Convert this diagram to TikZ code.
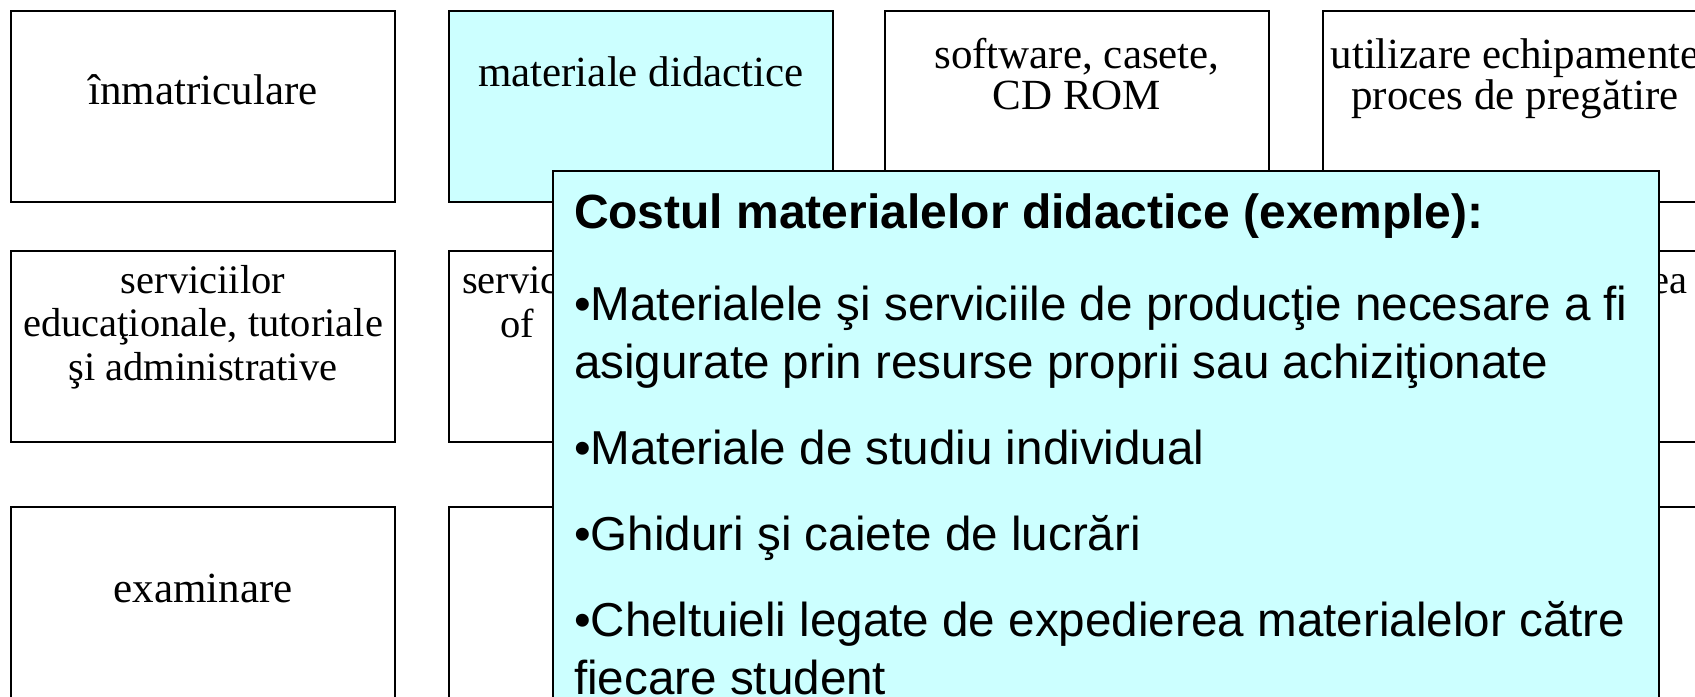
\documentclass[tikz,border=0pt]{standalone}
\usepackage{fontspec}
\setmainfont{Liberation Serif}
\setsansfont{Liberation Sans}
\usepackage{tikz}
\usetikzlibrary{positioning}
\definecolor{lightcyan}{RGB}{204,255,255}

\begin{document}
\begin{tikzpicture}[x=0.5pt,y=-0.5pt,% one unit is one pixel of the slide, y going down
			every node/.style={
				inner sep=0pt,		% text sits exactly on its coordinate
				outer sep=0pt
			},
			box/.style={rectangle,draw=black,line width=1pt,anchor=north west,
				minimum width=192pt,minimum height=95.5pt},
			boxtext/.style={anchor=base,align=center,font=\fontsize{21.5}{20.5}\selectfont},% base = last line
			smalltext/.style={boxtext,font=\fontsize{20.25}{21.75}\selectfont},
			popup/.style={rectangle,draw=black,line width=1pt,fill=lightcyan,anchor=north west,
				minimum width=553pt,minimum height=275pt},
			popuptext/.style={anchor=base west,align=left,font=\sffamily\fontsize{23.8}{29}\selectfont}
		]
		\clip (0,0) rectangle (1695,696);
		% first row
		\node[box](R11) at (11,11){};
		\node[box,fill=lightcyan](R12) at (449,11){};
		\node[box](R13) at (885,11){};
		\node[box](R14) at (1323,11){};
		% second row
		\node[box](R21) at (11,251){};
		\node[box](R22) at (449,251){};
		\node[box](R23) at (885,251){};
		\node[box](R24) at (1323,251){};
		% third row, cut by the bottom of the slide
		\node[box](R31) at (11,507){};
		\node[box](R32) at (449,507){};
		\node[box](R33) at (885,507){};
		\node[box](R34) at (1323,507){};
		% texts of the boxes
		\node[boxtext](T11) at (203,104){înmatriculare};
		\node[boxtext](T12) at (641,86){materiale didactice};
		\node[boxtext](T13) at (1077,109){software, casete,\\CD ROM};
		\node[boxtext](T14) at (1515,109){utilizare echipamente\\proces de pregătire};
		\node[smalltext](T21) at (203,380){serviciilor\\educaţionale, tutoriale\\şi administrative};
		\node[smalltext,anchor=base west](T22) at (462,293){servic};
		\node[smalltext,anchor=base west](T22b) at (500,337){of};
		\node[smalltext,anchor=base east](T24) at (1687,293){ea};
		\node[boxtext](T31) at (203,602){examinare};
		% the popup over the grid
		\node[popup](P) at (553,171){};
		\node[popuptext](PT) at (574,694){{\fontsize{24}{29}\selectfont\bfseries Costul materialelor didactice (exemple):}\\[17pt]
			•Materialele şi serviciile de producţie necesare a fi\\
			asigurate prin resurse proprii sau achiziţionate\\[14pt]
			•Materiale de studiu individual\\[14pt]
			•Ghiduri şi caiete de lucrări\\[14pt]
			•Cheltuieli legate de expedierea materialelor către\\
			fiecare student};
	\end{tikzpicture}
\end{document}
